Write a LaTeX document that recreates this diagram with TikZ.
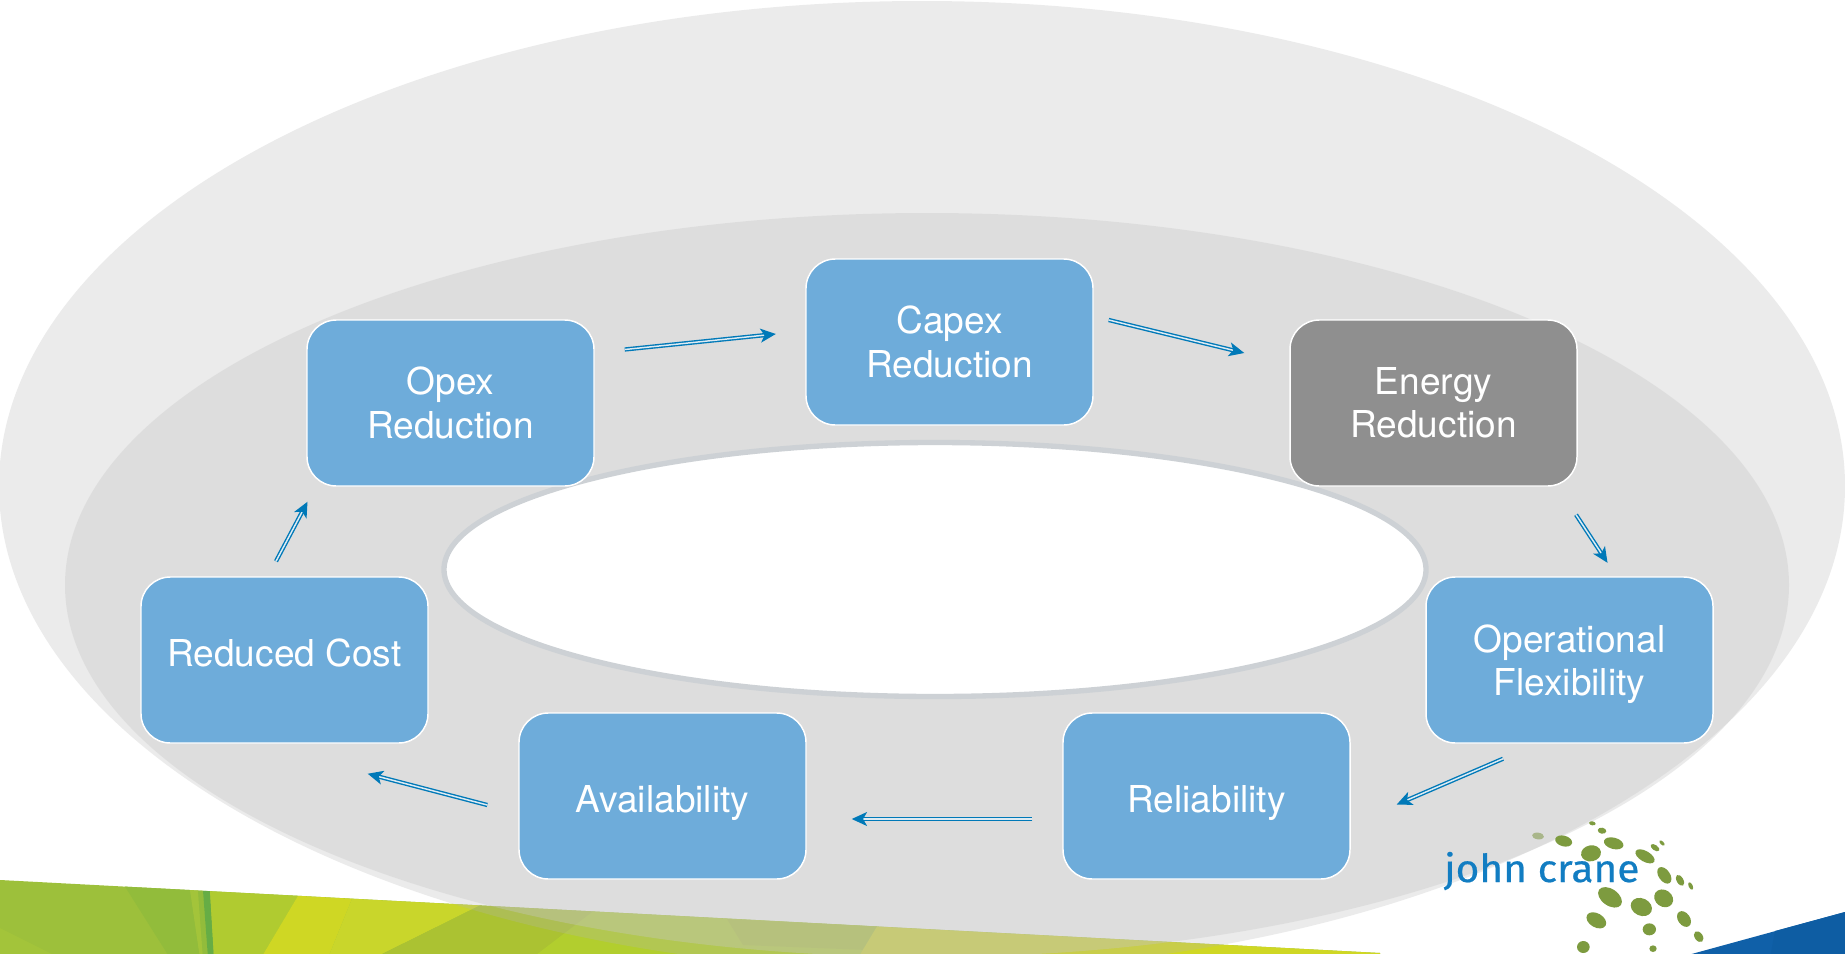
\documentclass[tikz,border=0pt]{standalone}
\usepackage{fontspec}
\setmainfont{TeX Gyre Heros}
\newfontfamily\logofont[FakeBold=0.5]{Fira Sans}
\usetikzlibrary{arrows.meta}
\definecolor{boxblue}{HTML}{6EACDA}
\definecolor{boxgrey}{HTML}{8F8F8F}
\definecolor{arrowblue}{HTML}{0079B8}
\definecolor{arrowcore}{HTML}{DDEBF3}
\definecolor{ringgrey}{HTML}{CDD1D5}
\definecolor{dotgreen}{HTML}{7D9B3F}
\definecolor{logoblue}{HTML}{127DC2}
\definecolor{HTMLa}{HTML}{9DC03B}
\definecolor{HTMLb}{HTML}{A3C43A}
\definecolor{HTMLc}{HTML}{92BC3B}
\definecolor{HTMLd}{HTML}{66AD45}
\definecolor{HTMLe}{HTML}{B0CB30}
\definecolor{HTMLf}{HTML}{CFD724}
\definecolor{HTMLg}{HTML}{C9D62B}
\definecolor{HTMLh}{HTML}{ABC232}
\definecolor{HTMLi}{HTML}{B2CE2E}
\definecolor{HTMLj}{HTML}{1060A8}
\definecolor{HTMLk}{HTML}{0E5DA3}
\definecolor{HTMLl}{HTML}{A9B68A}
\tikzset{
  card/.style={draw=white,line width=1.1pt,fill=boxblue,rounded corners=22pt,
    minimum width=215.25pt,minimum height=124.5pt,text=white,align=center,
    font=\fontsize{27.8}{32.5}\selectfont},
  flow/.style={draw=arrowblue,line width=1.05pt,double=arrowcore,double distance=1.1pt,
    -{Stealth[length=11.5pt,width=10.5pt,inset=3pt]}},
  patch/.style={draw=none}
}
\begin{document}
\begin{tikzpicture}[x=0.75pt,y=-0.75pt]
\useasboundingbox (0,0) rectangle (1845,953);
\clip (0,0) rectangle (1845,955);
\fill[white] (0,0) rectangle (1845,955);
% bottom colour strip
\fill[patch,fill=HTMLa] (0,880) -- (1380,953) -- (1380,958) -- (0,958) -- cycle;
\fill[patch,fill=HTMLb] (0,928) -- (60,958) -- (0,958) -- cycle;
\fill[patch,fill=HTMLc] (125,886.6) -- (190,890) -- (200,958) -- (170,958) -- cycle;
\fill[patch,fill=HTMLb] (190,890) -- (198,890.5) -- (203,958) -- (200,958) -- cycle;
\fill[patch,fill=HTMLc] (198,890.5) -- (203,890.8) -- (208,958) -- (203,958) -- cycle;
\fill[patch,fill=HTMLd] (203,890.8) -- (210,891.2) -- (214,958) -- (208,958) -- cycle;
\fill[patch,fill=HTMLe] (210,891.2) -- (298,895.8) -- (261,958) -- (214,958) -- cycle;
\fill[patch,fill=HTMLf] (298,895.8) -- (352,898.7) -- (328,958) -- (261,958) -- cycle;
\fill[patch,fill=HTMLg] (352,898.7) -- (480,905.4) -- (374,958) -- (328,958) -- cycle;
\fill[patch,fill=HTMLh] (480,905.4) -- (593,911.4) -- (532,958) -- (374,958) -- cycle;
\fill[patch,fill=HTMLi] (593,911.4) -- (877,926.5) -- (858,958) -- (532,958) -- cycle;
\fill[patch,fill=HTMLh] (727,919) -- (877,926.5) -- (868,950) -- (743,945) -- cycle;
\fill[patch,fill=HTMLf] (877,926.5) -- (1380,953) -- (1380,958) -- (858,958) -- cycle;
% corner
\fill[patch,fill=HTMLj] (1677,958) -- (1845,912) -- (1845,958) -- cycle;
\fill[patch,fill=HTMLk] (1775,931) -- (1845,912) -- (1845,958) -- (1770,958) -- cycle;
% ellipses
\fill[fill=black!29,fill opacity=0.267] (922,486) ellipse [x radius=923,y radius=485];
\fill[fill=black!22,fill opacity=0.364] (927,585) ellipse [x radius=862,y radius=372];
\draw[draw=ringgrey,line width=4pt,fill=white] (935,569.5) ellipse [x radius=491,y radius=127];
% boxes
\node[card] (capex) at (949.5,342) {Capex\\Reduction};
\node[card] (opex) at (450.5,403) {Opex\\Reduction};
\node[card,fill=boxgrey] (energy) at (1433.5,403) {Energy\\Reduction};
\node[card] (opflex) at (1569.5,660) {\rule{0pt}{27pt}Operational\\Flexibility};
\node[card] (reliab) at (1206.5,796) {\rule{0pt}{31pt}Reliability};
\node[card] (avail) at (662.5,796) {\rule{0pt}{31pt}Availability};
\node[card] (redcost) at (284.5,660) {\rule[-10.5pt]{0pt}{10.5pt}Reduced Cost};
% connectors
\draw[flow] ([shift={(30,-53.5)}]opex.east) -- ([shift={(-29.5,-8)}]capex.west);
\draw[flow] ([shift={(15,-22)}]capex.east) -- ([shift={(-45,-50)}]energy.west);
\draw[flow] ([shift={(142.5,28)}]energy.south) -- ([shift={(38,-13.5)}]opflex.north);
\draw[flow] ([shift={(-66.5,15)}]opflex.south) -- ([shift={(46,8.5)}]reliab.east);
\draw[flow] ([shift={(-30,23)}]reliab.west) -- ([shift={(45,23)}]avail.east);
\draw[flow] ([shift={(-31,9)}]avail.west) -- ([shift={(-61,30)}]redcost.south east);
\draw[flow] ([shift={(-8.5,-15)}]redcost.north) -- ([shift={(-143,15)}]opex.south);
% logo
\node[anchor=base west,text=logoblue,inner sep=0pt,xscale=1.05,font=\logofont\fontsize{29}{29}\selectfont] (logotext) at (1444,882) {john crane};
\begin{scope}[shift={(1420,810)},x=0.25pt,y=-0.25pt]
\fill[fill=HTMLl,rotate around={-8:(354,78)}] (354,78) ellipse [x radius=18,y radius=10];
\foreach \xx/\yy/\aa/\bb/\rr in {431/93/26/16/15,517/40/10/6/10,546/62/13/9/10,513/130/30/24/-10,581/100/30/17/15,675/139/32/16/30,705/113/15/8/35,726/99/10/5/45,733/196/28/17/55,780/211/18/10/60,812/228/12/6/65,570/262/40/25/35,664/291/33/26/25,731/265/30/25/35,529/331/32/21/30,792/327/26/18/55,688/358/20/18/0,836/380/18/12/55,490/411/19/18/0,699/416/11/10/0}
  \fill[fill=dotgreen,rotate around={-\rr:(\xx,\yy)}] (\xx,\yy) ellipse [x radius=\aa,y radius=\bb];
\end{scope}
\end{tikzpicture}
\end{document}
